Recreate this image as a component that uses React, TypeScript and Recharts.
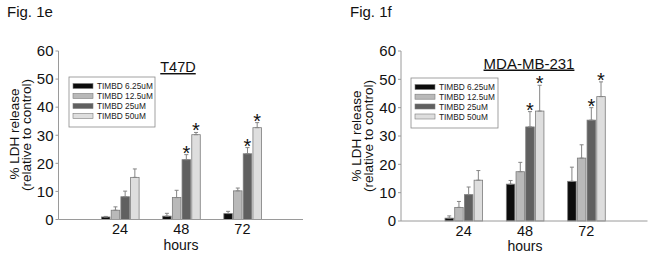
import React from "react";
import { BarChart, Bar, XAxis, YAxis, ErrorBar } from "recharts";

const hours = ["24", "48", "72"];
const doses = ["TIMBD 6.25uM", "TIMBD 12.5uM", "TIMBD 25uM", "TIMBD 50uM"];
const doseColors = ["#0c0c0c", "#b9b9b9", "#606060", "#dedede"];
const yTicks = [0, 10, 20, 30, 40, 50, 60];

// T47D (Fig. 1e)
const t47d625 = [0.9, 1.2, 2.1];
const t47d625Err = [0.2, 1.0, 0.8];
const t47d125 = [3.3, 7.8, 10.2];
const t47d125Err = [1.2, 2.6, 1.0];
const t47d25 = [8.1, 21.3, 23.4];
const t47d25Err = [2.0, 1.8, 2.2];
const t47d50 = [15.0, 30.2, 32.7];
const t47d50Err = [3.0, 0.8, 1.8];
const t47dStars25 = [false, true, true];
const t47dStars50 = [false, true, true];

// MDA-MB-231 (Fig. 1f)
const mda625 = [1.0, 13.0, 14.0];
const mda625Err = [0.8, 1.3, 5.0];
const mda125 = [4.8, 17.4, 22.2];
const mda125Err = [2.1, 3.3, 4.7];
const mda25 = [9.3, 33.2, 35.6];
const mda25Err = [2.7, 5.4, 4.4];
const mda50 = [14.4, 38.8, 43.9];
const mda50Err = [3.4, 9.1, 5.2];
const mdaStars25 = [false, true, true];
const mdaStars50 = [false, true, true];

const FONT = "'Liberation Sans', Arial, sans-serif";
const FRAME = "#9a9a9a";

function buildRows(
  means: number[][],
  errs: number[][],
  stars: boolean[][]
) {
  return hours.map((h, i) => {
    const row: any = { hour: h };
    means.forEach((m, s) => {
      row["v" + s] = m[i];
      row["e" + s] = [0, errs[s][i]];
      row["s" + s] = stars[s][i];
    });
    return row;
  });
}

const t47dRows = buildRows(
  [t47d625, t47d125, t47d25, t47d50],
  [t47d625Err, t47d125Err, t47d25Err, t47d50Err],
  [[false, false, false], [false, false, false], t47dStars25, t47dStars50]
);

const mdaRows = buildRows(
  [mda625, mda125, mda25, mda50],
  [mda625Err, mda125Err, mda25Err, mda50Err],
  [[false, false, false], [false, false, false], mdaStars25, mdaStars50]
);

// bar with an optional significance star above its error bar
const starBar = (s: number) => (p: any) => {
  const { x, y, width, height, payload, fill } = p;
  const v = payload["v" + s];
  const err = payload["e" + s][1];
  const errTop = y - (v ? (err * height) / v : 0);
  return (
    <g>
      <rect
        x={x}
        y={y}
        width={width}
        height={height}
        fill={fill}
        stroke="#7c7c7c"
        strokeWidth={0.8}
      />
      {payload["s" + s] && (
        <text
          x={x + width / 2}
          y={errTop + 5}
          textAnchor="middle"
          fontSize={20}
          fontFamily={FONT}
          fill="#111"
        >
          *
        </text>
      )}
    </g>
  );
};

interface PanelProps {
  rows: any[];
  left: number;
  width: number;
  margin: { top: number; right: number; bottom: number; left: number };
  padding: { left: number; right: number };
}

function Panel({ rows, left, width, margin, padding }: PanelProps) {
  return (
    <div style={{ position: "absolute", left, top: 0 }}>
      <BarChart
        width={width}
        height={257}
        data={rows}
        margin={margin}
        barSize={8.5}
        barGap={1.2}
      >
        <XAxis
          dataKey="hour"
          padding={padding}
          height={30}
          tickLine={false}
          tickSize={3}
          tickMargin={1.5}
          axisLine={{ stroke: FRAME }}
          tick={{ fill: "#111", fontSize: 14.5, fontFamily: FONT }}
        />
        <XAxis
          xAxisId="top"
          dataKey="hour"
          orientation="top"
          height={0}
          tick={false}
          tickLine={false}
          axisLine={{ stroke: FRAME }}
        />
        <YAxis
          width={40}
          domain={[0, 60]}
          ticks={yTicks}
          interval={0}
          tickSize={3}
          tickMargin={2}
          axisLine={{ stroke: FRAME }}
          tickLine={{ stroke: FRAME }}
          tick={{ fill: "#111", fontSize: 15, fontFamily: FONT }}
        />
        <YAxis
          yAxisId="right"
          orientation="right"
          width={0}
          domain={[0, 60]}
          tick={false}
          tickLine={false}
          axisLine={{ stroke: FRAME }}
        />
        {doses.map((d, s) => (
          <Bar
            key={d}
            dataKey={"v" + s}
            name={d}
            fill={doseColors[s]}
            isAnimationActive={false}
            shape={starBar(s)}
          >
            <ErrorBar
              dataKey={"e" + s}
              direction="y"
              width={2}
              stroke="#858585"
              strokeWidth={1}
            />
          </Bar>
        ))}
      </BarChart>
    </div>
  );
}

function LegendBox({ x, y, w, rowY }: { x: number; y: number; w: number; rowY: number[] }) {
  return (
    <g>
      <rect x={x} y={y} width={w} height={50} fill="#fff" stroke="#8a8a8a" strokeWidth={0.8} />
      {doses.map((d, i) => (
        <g key={d}>
          <rect
            x={x + 4}
            y={rowY[i] - 2.5}
            width={20}
            height={5}
            fill={doseColors[i]}
            stroke="#7c7c7c"
            strokeWidth={0.6}
          />
          <text x={x + 28} y={rowY[i] + 3} fontSize={8.3} fontFamily={FONT} fill="#222">
            {d}
          </text>
        </g>
      ))}
    </g>
  );
}

export default function App() {
  return (
    <div
      style={{
        position: "absolute",
        left: 0,
        top: 0,
        width: 655,
        height: 257,
        background: "#fff",
        overflow: "hidden",
      }}
    >
      <Panel
        rows={t47dRows}
        left={0}
        width={330}
        margin={{ top: 51, right: 27, bottom: 7.5, left: 18.5 }}
        padding={{ left: 31, right: 30 }}
      />
      <Panel
        rows={mdaRows}
        left={330}
        width={325}
        margin={{ top: 51, right: 7.5, bottom: 6, left: 31 }}
        padding={{ left: 32, right: 30.5 }}
      />
      <svg
        width={655}
        height={257}
        style={{ position: "absolute", left: 0, top: 0, pointerEvents: "none" }}
      >
        <text x={7} y={17} fontSize={15} fontFamily={FONT} fill="#111">
          Fig. 1e
        </text>
        <text x={350} y={17} fontSize={15} fontFamily={FONT} fill="#111">
          Fig. 1f
        </text>

        <text x={178} y={72} textAnchor="middle" fontSize={14.5} fontFamily={FONT} fill="#111" textDecoration="underline">
          T47D
        </text>
        <text x={529} y={68.5} textAnchor="middle" fontSize={15} fontFamily={FONT} fill="#111" textDecoration="underline">
          MDA-MB-231
        </text>

        <text transform="translate(19,134) rotate(-90)" textAnchor="middle" fontSize={13.5} fontFamily={FONT} fill="#111">
          % LDH release
        </text>
        <text transform="translate(31,135) rotate(-90)" textAnchor="middle" fontSize={13.5} fontFamily={FONT} fill="#111">
          (relative to control)
        </text>
        <text transform="translate(361,136) rotate(-90)" textAnchor="middle" fontSize={13.5} fontFamily={FONT} fill="#111">
          % LDH release
        </text>
        <text transform="translate(373,136) rotate(-90)" textAnchor="middle" fontSize={13.5} fontFamily={FONT} fill="#111">
          (relative to control)
        </text>

        <text x={181} y={250} textAnchor="middle" fontSize={14} fontFamily={FONT} fill="#111">
          hours
        </text>
        <text x={525} y={251} textAnchor="middle" fontSize={14} fontFamily={FONT} fill="#111">
          hours
        </text>

        <LegendBox x={69} y={77} w={86} rowY={[86, 96, 106, 116]} />
        <LegendBox x={411} y={78} w={87} rowY={[87, 96.7, 106.5, 116.5]} />
      </svg>
    </div>
  );
}
